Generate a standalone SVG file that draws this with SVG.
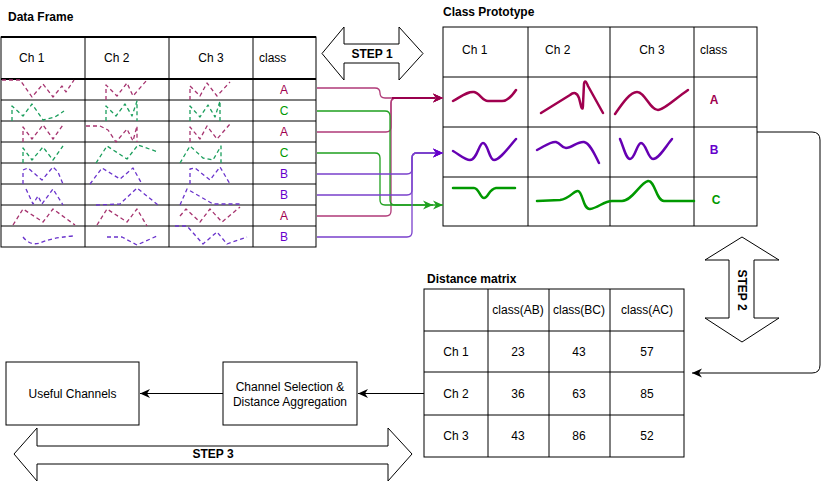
<svg xmlns="http://www.w3.org/2000/svg" width="830" height="485" viewBox="0 0 830 485">
<style>
text{font-family:"Liberation Sans",Arial,sans-serif;font-size:12px;fill:#000}
.b{font-weight:bold}
.m{text-anchor:middle}
.grid{stroke:#000;stroke-width:1;fill:none}
.dm,.dg,.dp{fill:none;stroke-width:1.3;stroke-dasharray:4,3;stroke-linejoin:round}
.dm{stroke:#a6336f}
.dg{stroke:#1a9e5c}
.dp{stroke:#6a33cc}
.pa{fill:none;stroke:#a0004f;stroke-width:2.5;stroke-linecap:round;stroke-linejoin:round}
.pb{fill:none;stroke:#6600b3;stroke-width:2.5;stroke-linecap:round;stroke-linejoin:round}
.pc{fill:none;stroke:#009900;stroke-width:2.5;stroke-linecap:round;stroke-linejoin:round}
.cm{fill:none;stroke:#b03a78;stroke-width:1.3}
.cg{fill:none;stroke:#1fa01f;stroke-width:1.3}
.cp{fill:none;stroke:#7a40cc;stroke-width:1.3}
.ck{fill:none;stroke:#000;stroke-width:1}
.big{fill:#fff;stroke:#000;stroke-width:1}
.cA{fill:#a0004f}.cB{fill:#6600cc}.cC{fill:#009900}
</style>
<defs>
<marker id="am" markerUnits="userSpaceOnUse" markerWidth="12" markerHeight="10" refX="10" refY="5" orient="auto"><path d="M0,0.5 L10,5 L0,9.5 L3,5 Z" fill="#99004d"/></marker>
<marker id="ag" markerUnits="userSpaceOnUse" markerWidth="12" markerHeight="10" refX="10" refY="5" orient="auto"><path d="M0,0.5 L10,5 L0,9.5 L3,5 Z" fill="#1fa01f"/></marker>
<marker id="ap" markerUnits="userSpaceOnUse" markerWidth="12" markerHeight="10" refX="10" refY="5" orient="auto"><path d="M0,0.5 L10,5 L0,9.5 L3,5 Z" fill="#6600cc"/></marker>
<marker id="ak" markerUnits="userSpaceOnUse" markerWidth="12" markerHeight="10" refX="10" refY="5" orient="auto"><path d="M0,0.5 L10,5 L0,9.5 L3,5 Z" fill="#000"/></marker>
</defs>

<g id="data-frame">
<text class="b" x="8" y="21">Data Frame</text>
<rect x="1" y="37" width="315" height="210" class="grid" stroke-width="1.5"/>
<line x1="1" y1="37" x2="316" y2="37" stroke="#000" stroke-width="2"/>
<line x1="1" y1="79" x2="316" y2="79" stroke="#000" stroke-width="2"/>
<path class="grid" d="M1,100H316M1,121H316M1,142H316M1,163H316M1,184H316M1,205H316M1,226H316M85,37V247M169,37V247M253,37V247"/>
<text x="19" y="62">Ch 1</text><text x="104" y="62">Ch 2</text><text x="211" y="62" class="m">Ch 3</text><text x="259" y="62">class</text>
<text x="284" y="94" class="m cA">A</text>
<text x="284" y="115" class="m cC">C</text>
<text x="284" y="136" class="m cA">A</text>
<text x="284" y="157" class="m cC">C</text>
<text x="284" y="178" class="m cB">B</text>
<text x="284" y="199" class="m cB">B</text>
<text x="284" y="220" class="m cA">A</text>
<text x="284" y="241" class="m cB">B</text>
<path class="dm" d="M2,80 L20,80 L32,97 L43,84 L53,97 L62,86 L66,92 L74,80"/>
<path class="dm" d="M106,100 L106,85 L117,96 L127,83 L133,96 L147,80"/>
<path class="dm" d="M190,100 L190,86 L200,96 L207,83 L217,96 L230,82"/>
<path class="dg" d="M12,121 L12,106 L23,116 L32,104 L43,120 L55,117 L64,111"/>
<path class="dg" d="M106,121 L106,106 L116,116 L125,104 L132,116 L137,101 L137,121"/>
<path class="dg" d="M190,121 L190,106 L200,117 L208,105 L215,117 L220,101 L220,121"/>
<path class="dm" d="M23,142 L23,127 L32,139 L43,125 L53,139 L63,125"/>
<path class="dm" d="M86,126 L100,126 L108,130 L116,142 L127,129 L133,141 L137,126 L137,142"/>
<path class="dm" d="M190,142 L190,127 L200,139 L207,126 L217,139 L230,124"/>
<path class="dg" d="M23,163 L23,148 L32,160 L43,147 L53,160 L63,146"/>
<path class="dg" d="M96,163 L107,146 L127,159 L138,145 L158,152"/>
<path class="dg" d="M180,163 L190,146 L203,158 L213,160 L221,146 L221,163"/>
<path class="dp" d="M23,184 L23,170 L28,168 L42,180 L53,167 L58,172 L63,184"/>
<path class="dp" d="M90,184 L102,168 L120,179 L133,168 L142,184"/>
<path class="dp" d="M190,184 L190,169 L195,168 L210,180 L220,167 L230,184"/>
<path class="dp" d="M26,189 L33,204 L38,196 L42,204 L53,189 L63,205"/>
<path class="dp" d="M96,205 L120,204 L137,188 L158,205"/>
<path class="dp" d="M180,205 L187,189 L213,204 L240,204"/>
<path class="dm" d="M13,225 L23,209 L43,222 L53,209 L75,225"/>
<path class="dm" d="M97,225 L107,209 L127,222 L137,209 L147,226"/>
<path class="dm" d="M180,216 L186,209 L200,222 L210,209 L222,222 L240,207"/>
<path class="dp" d="M23,237 Q30,246 40,243 Q50,238 73,236"/>
<path class="dp" d="M107,237 L122,237 L137,245 L157,236"/>
<path class="dp" d="M175,226 L187,226 L203,244 L217,232 L227,244 L247,237"/>
</g>

<g id="step1">
<polygon class="big" points="322,53.5 344,27 344,44 399,44 399,27 423,53.5 399,80 399,63 344,63 344,80"/>
<text x="372" y="58" class="b m">STEP 1</text>
</g>

<g id="class-prototype">
<text class="b" x="443" y="16">Class Prototype</text>
<rect x="443" y="27" width="314" height="199" class="grid"/>
<path class="grid" d="M443,77H757M443,127H757M443,177H757M528,27V226M610,27V226M694,27V226"/>
<text x="462" y="54">Ch 1</text><text x="545" y="54">Ch 2</text><text x="652" y="54" class="m">Ch 3</text><text x="700" y="54">class</text>
<text x="714" y="104" class="b m cA">A</text>
<text x="714" y="154" class="b m cB">B</text>
<text x="716" y="204" class="b m cC">C</text>
<path class="pa" d="M453,101 C462,96 468,91 474,92 C480,93 482,101 488,101 L502,101 C508,101 512,96 516,90"/>
<path class="pa" d="M541,113 L570,95 Q576,90 579,98 L581,106 Q583,112 583,104 L584,84 Q585,78 588,86 L603,113"/>
<path class="pa" d="M615,114 C622,104 630,92 637,92 C645,92 650,110 658,110 C664,110 676,98 688,90"/>
<path class="pb" d="M453,151 C460,155 465,160 470,160 C477,160 479,143 483,143 C488,143 489,160 494,160 C500,160 508,148 516,139"/>
<path class="pb" d="M537,150 C545,146 551,141 556,142 C561,143 561,148 566,148 C572,148 578,141 584,142 C590,143 595,155 599,163"/>
<path class="pb" d="M620,139 C624,148 626,159 630,159 C635,159 637,143 641,143 C646,143 648,159 653,159 C659,159 666,146 672,139"/>
<path class="pc" d="M453,188 L474,188 C479,188 480,198 484,198 C488,198 489,189 496,188 L515,188"/>
<path class="pc" d="M537,201 L560,200 C570,199 574,190 578,191 C583,192 583,210 590,209 C598,208 604,201 612,201 L622,201 C632,201 640,183 648,181 C655,180 656,201 664,201 L694,201"/>
</g>

<g id="step2">
<polygon class="big" points="742,237 779,260 754,260 754,318 779,318 742,342 705,318 729,318 729,260 705,260"/>
<text class="b m" transform="translate(742,290) rotate(90)" dominant-baseline="central">STEP 2</text>
</g>

<g id="distance-matrix">
<text class="b" x="427" y="283">Distance matrix</text>
<rect x="424" y="289" width="260" height="168" class="grid"/>
<path class="grid" d="M424,331H684M424,372H684M424,415H684M488,289V457M549,289V457M610,289V457"/>
<text x="518" y="314" class="m">class(AB)</text><text x="579" y="314" class="m">class(BC)</text><text x="647" y="314" class="m">class(AC)</text>
<text x="456" y="356" class="m">Ch 1</text><text x="518" y="356" class="m">23</text><text x="579" y="356" class="m">43</text><text x="647" y="356" class="m">57</text>
<text x="456" y="398" class="m">Ch 2</text><text x="518" y="398" class="m">36</text><text x="579" y="398" class="m">63</text><text x="647" y="398" class="m">85</text>
<text x="456" y="440" class="m">Ch 3</text><text x="518" y="440" class="m">43</text><text x="579" y="440" class="m">86</text><text x="647" y="440" class="m">52</text>
</g>

<g id="channel-selection">
<rect x="223" y="362" width="134" height="63" class="big"/>
<text x="290" y="391" class="m">Channel Selection &amp;</text>
<text x="290" y="406" class="m">Distance Aggregation</text>
</g>

<g id="useful-channels">
<rect x="6" y="362" width="133" height="63" class="big"/>
<text x="72.5" y="398" class="m">Useful Channels</text>
</g>

<g id="step3">
<polygon class="big" points="14,454 37,428 37,446 388,446 388,428 412,454 388,481 388,464 37,464 37,481"/>
<text x="213" y="458" class="b m">STEP 3</text>
</g>

<g id="connectors">
<path class="cm" d="M317,88 L375,88 Q380,88 380,93 Q380,98 385,98 L443,98" marker-end="url(#am)"/>
<path class="cm" d="M317,132 L386,132 Q391,132 391,127 L391,103 Q391,98 396,98 L443,98" marker-end="url(#am)"/>
<path class="cm" d="M317,216 L386,216 Q391,216 391,211 L391,103 Q391,98 396,98 L443,98" marker-end="url(#am)"/>
<path d="M392,98 L435,98" stroke="#99004d" stroke-width="2.2"/>
<path class="cg" d="M317,111 L385,111 Q390,111 390,116 L390,200 Q390,205 395,205 L433,205" marker-end="url(#ag)"/>
<path class="cg" d="M317,153 L375,153 Q380,153 380,158 L380,200 Q380,205 385,205 L443,205" marker-end="url(#ag)"/>
<path class="cp" d="M317,174 L407,174 Q412,174 412,169 L412,158 Q412,153 417,153 L443,153" marker-end="url(#ap)"/>
<path class="cp" d="M317,195 L407,195 Q412,195 412,190 L412,158 Q412,153 417,153 L443,153" marker-end="url(#ap)"/>
<path class="cp" d="M317,237 L407,237 Q412,237 412,232 L412,158 Q412,153 417,153 L443,153" marker-end="url(#ap)"/>
<path class="ck" d="M757,132 L812,132 Q820,132 820,140 L820,365 Q820,373 812,373 L692,373" marker-end="url(#ak)"/>
<path class="ck" d="M424,393.5 L358,393.5" marker-end="url(#ak)"/>
<path class="ck" d="M223,393.5 L140,393.5" marker-end="url(#ak)"/>
</g>
</svg>
